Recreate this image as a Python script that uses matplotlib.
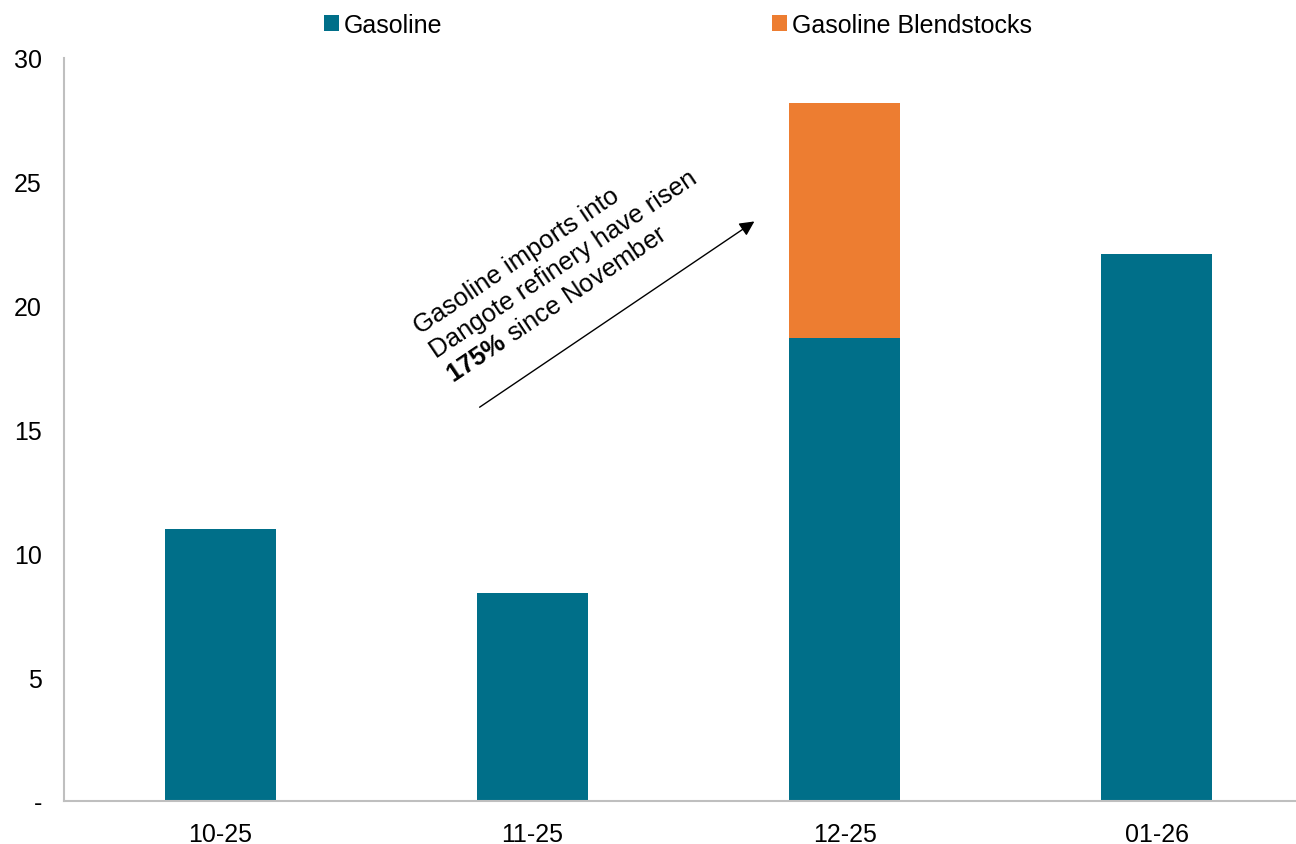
import matplotlib
matplotlib.use('Agg')
import matplotlib.pyplot as plt
from matplotlib.patches import Patch
from matplotlib.ticker import FuncFormatter

plt.rcParams['font.family'] = ['Liberation Sans', 'DejaVu Sans']
plt.rcParams['mathtext.fontset'] = 'custom'
plt.rcParams['mathtext.rm'] = 'Liberation Sans'
plt.rcParams['mathtext.bf'] = 'Liberation Sans:bold'

# data
months = ["10-25", "11-25", "12-25", "01-26"]
gasoline = [11.0, 8.4, 18.7, 22.1]
blendstocks = [0.0, 0.0, 9.5, 0.0]
yticks = [0, 5, 10, 15, 20, 25, 30]

c_gas = '#006F89'
c_blend = '#ED7D31'
grey = '#BFBFBF'

fig = plt.figure(figsize=(12.96, 8.45), dpi=100)
ax = fig.add_axes([0.0494, 0.0509, 0.9637, 0.8793])

x = list(range(len(months)))
ax.bar(x, gasoline, width=0.355, color=c_gas)
ax.bar(x, blendstocks, width=0.355, bottom=gasoline, color=c_blend)

ax.set_xlim(-0.5, 3.5)
ax.set_ylim(0, 30)
ax.set_yticks(yticks)
ax.yaxis.set_major_formatter(FuncFormatter(lambda v, p: '-' if v == 0 else f'{v:.0f}'))
ax.set_xticks(x)
ax.set_xticklabels(months)
ax.tick_params(axis='both', length=0, labelsize=18, colors='black')
ax.tick_params(axis='y', pad=16)
ax.tick_params(axis='x', pad=15)

for s in ['top', 'right']:
    ax.spines[s].set_visible(False)
for s in ['left', 'bottom']:
    ax.spines[s].set_color(grey)
    ax.spines[s].set_linewidth(1.5)

# annotation arrow + rotated text
ax.annotate('', xy=(1.711, 23.4), xytext=(0.831, 15.9),
            arrowprops=dict(arrowstyle='-|>', color='black', lw=1.0,
                            mutation_scale=22, shrinkA=0, shrinkB=0))
ax.text(0.755, 16.75,
        "Gasoline imports into\nDangote refinery have risen\n$\\bf{175\\%}$ since November",
        rotation=34, rotation_mode='anchor', ha='left', va='bottom',
        multialignment='left', fontsize=18.5, linespacing=1.28)

handles = [Patch(facecolor=c_gas), Patch(facecolor=c_blend)]
fig.legend(handles, ['Gasoline', 'Gasoline Blendstocks'], loc='upper center',
           bbox_to_anchor=(0.523, 1.01), ncol=2, frameon=False, fontsize=18,
           handlelength=0.6, handleheight=0.6, handletextpad=0.2,
           columnspacing=13.2)

fig.savefig('out.png', dpi=100)
